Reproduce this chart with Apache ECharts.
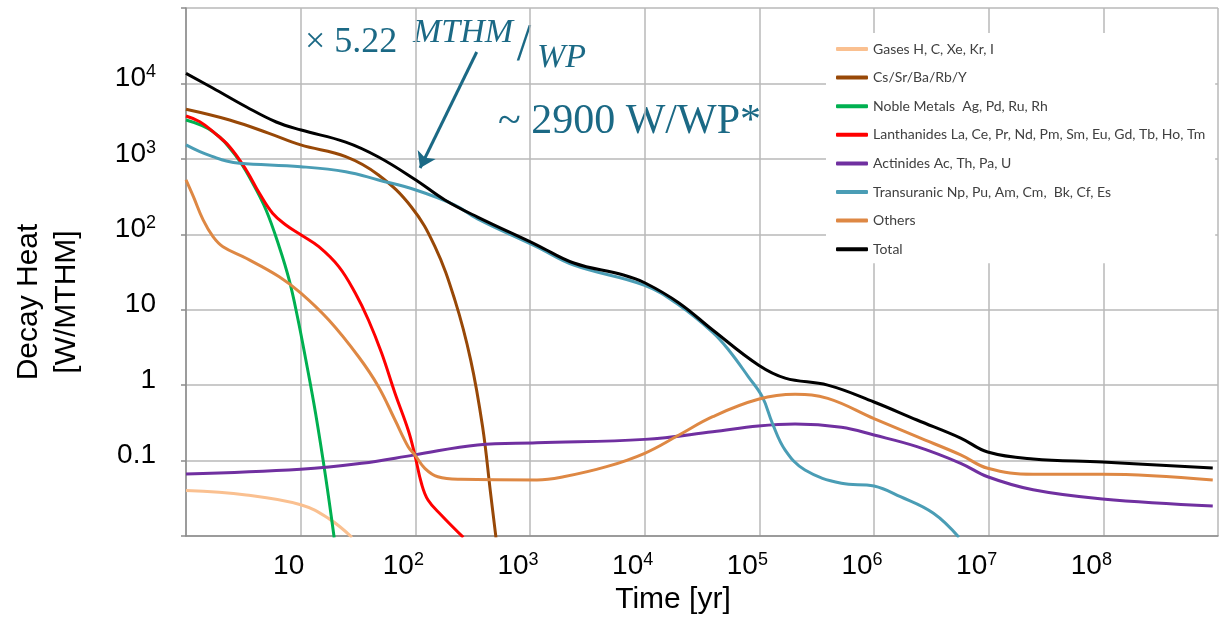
<!DOCTYPE html>
<html>
<head>
<meta charset="utf-8">
<title>Decay Heat</title>
<script src="https://cdn.jsdelivr.net/npm/echarts@6/dist/echarts.min.js"></script>
<style>
  html, body { margin: 0; padding: 0; background: #fff; }
  #chart { width: 1221px; height: 627px; }
</style>
</head>
<body>
<div id="chart"></div>
<script>
// [time in years, decay heat in W/MTHM]
const gases = [[1, 0.040], [3.35, 0.035], [10, 0.026], [17.6, 0.017], [28, 0.0096]];
const csSrBaRbY = [[1, 4540], [2.4, 3270], [5.3, 2180], [10, 1530], [24.7, 1070], [47.7, 611], [92, 232],
  [148, 69], [221, 13.5], [304, 2.15], [386, 0.28], [453, 0.037], [505, 0.0095]];
const nobleMetals = [[1, 3270], [1.72, 2290], [2.75, 1070], [3.82, 474], [4.99, 210], [6.5, 68.4],
  [7.94, 24.8], [9.37, 8.07], [11.1, 2.15], [13.5, 0.42], [16.5, 0.061], [19.6, 0.0095]];
const lanthanides = [[1, 3700], [1.32, 3110], [1.72, 2290], [2.4, 1450], [3.35, 711], [4.37, 349],
  [5.69, 190], [7.43, 133], [10.1, 98], [14.4, 68.4], [21.5, 37.2], [30, 16.5], [39, 7.31], [50.9, 2.64],
  [66.5, 0.78], [86.6, 0.254], [99, 0.119], [113, 0.05], [129, 0.030], [168, 0.019], [262, 0.0096]];
const actinides = [[1, 0.0664], [10, 0.0766], [34, 0.092], [99, 0.119], [349, 0.161], [1150, 0.172],
  [10000, 0.191], [39200, 0.241], [98000, 0.287], [205000, 0.305], [520000, 0.276], [1.0e6, 0.218],
  [2.37e6, 0.153], [5.7e6, 0.092], [9.8e6, 0.061], [2.44e7, 0.041], [9.8e7, 0.031], [9e8, 0.025]];
const transuranic = [[1, 1530], [1.32, 1245], [1.72, 1070], [2.25, 937], [2.93, 873], [10, 787], [24.7, 676],
  [47.7, 525], [101, 386], [221, 244], [349, 160], [1150, 68], [2410, 39], [10000, 21], [19900, 11.5],
  [39200, 5.0], [54000, 2.92], [80300, 1.29], [106000, 0.703], [130000, 0.312], [168000, 0.138],
  [250000, 0.075], [520000, 0.05], [1.0e6, 0.046], [1.7e6, 0.0332], [3.3e6, 0.02], [5.5e6, 0.0096]];
const others = [[1, 525], [1.16, 315], [1.41, 155], [1.72, 93], [2.1, 68.4], [3.35, 48.1], [6.5, 27.4],
  [10.1, 16.5], [17.6, 7.3], [32, 2.38], [47.7, 0.955], [66.5, 0.345], [86.6, 0.153], [99, 0.119],
  [121, 0.079], [157, 0.061], [249, 0.0564], [1150, 0.0553], [1960, 0.061], [4650, 0.083], [10000, 0.125],
  [19900, 0.218], [39200, 0.382], [98000, 0.649], [205000, 0.755], [395000, 0.668], [1.0e6, 0.36],
  [2.37e6, 0.207], [5.7e6, 0.119], [9.8e6, 0.079], [2.44e7, 0.066], [9.8e7, 0.066], [9e8, 0.0553]];
const total = [[1, 13600], [1.71, 8700], [3.37, 4870], [6.12, 3080], [10.1, 2410], [24.7, 1670], [47.7, 1060],
  [101, 525], [181, 285], [349, 169], [1150, 72], [2410, 41.6], [6530, 28.8], [10100, 22.6], [19900, 12.3],
  [39200, 5.38], [98000, 1.85], [168000, 1.24], [395000, 1.0], [1.0e6, 0.598], [2.37e6, 0.345],
  [5.7e6, 0.199], [9.8e6, 0.130], [2.44e7, 0.105], [9.8e7, 0.0957], [9e8, 0.0797]];

const seriesNames = [
  "Gases H, C, Xe, Kr, I",
  "Cs/Sr/Ba/Rb/Y",
  "Noble Metals  Ag, Pd, Ru, Rh",
  "Lanthanides La, Ce, Pr, Nd, Pm, Sm, Eu, Gd, Tb, Ho, Tm",
  "Actinides Ac, Th, Pa, U",
  "Transuranic Np, Pu, Am, Cm,  Bk, Cf, Es",
  "Others",
  "Total",
];
const seriesData = [gases, csSrBaRbY, nobleMetals, lanthanides, actinides, transuranic, others, total];
const seriesColors = ["#FAC090", "#984807", "#00B050", "#FF0000", "#7030A0", "#4A9DB5", "#DE8844", "#000000"];

// decade exponents that carry a tick label
const xLabelExps = [1, 2, 3, 4, 5, 6, 7, 8];
const yLabelExps = [-1, 0, 1, 2, 3, 4];

// annotation arrow, in data coordinates [time, heat]
const arrowFrom = [343, 26100];
const arrowTo = [110, 757];

const teal = "#1b6985";
const gridColor = "#b8b8b8";
const axisColor = "#8c8c8c";

function decadeLabel(v, exps) {
  const e = Math.round(Math.log10(v));
  if (!exps.includes(e)) return "";
  if (e === 0) return "{b|1}";
  if (e === 1) return "{b|10}";
  if (e === -1) return "{b|0.1}";
  return "{b|10}{s|" + e + "}";
}

const labelRich = {
  b: { fontFamily: "Liberation Sans", fontSize: 28, lineHeight: 30, color: "#000" },
  s: { fontFamily: "Liberation Sans", fontSize: 18, lineHeight: 18, color: "#000", verticalAlign: "top" },
};

const chart = echarts.init(document.getElementById("chart"));

const option = {
  animation: false,
  backgroundColor: "#fff",
  grid: { left: 186, right: -5, top: 8, bottom: 91 },
  xAxis: {
    type: "log",
    logBase: 10,
    min: 1,
    max: 1e9,
    axisLine: { onZero: false, lineStyle: { color: axisColor, width: 1.5 } },
    axisTick: { show: false },
    minorTick: { show: false },
    splitLine: { show: true, lineStyle: { color: gridColor, width: 1.5 } },
    axisLabel: {
      margin: 15,
      padding: [0, 24, 0, 0],
      formatter: (v) => decadeLabel(v, xLabelExps),
      rich: labelRich,
    },
  },
  yAxis: {
    type: "log",
    logBase: 10,
    min: 0.01,
    max: 1e5,
    axisLine: { show: true, lineStyle: { color: axisColor, width: 1.5 } },
    axisTick: { show: true, inside: false, length: 5, lineStyle: { color: axisColor, width: 1.5 } },
    splitLine: { show: true, lineStyle: { color: gridColor, width: 1.5 } },
    axisLabel: {
      margin: 30,
      padding: [0, 0, 10, 0],
      formatter: (v) => decadeLabel(v, yLabelExps),
      rich: labelRich,
    },
  },
  legend: {
    orient: "vertical",
    left: 826,
    top: 33,
    padding: [8, 10, 6, 10],
    backgroundColor: "#fff",
    icon: "roundRect",
    itemWidth: 32,
    itemHeight: 4,
    itemGap: 12.6,
    selectedMode: false,
    textStyle: { fontFamily: "Lato", fontSize: 14, lineHeight: 16, color: "#404040" },
    data: seriesNames,
  },
  series: seriesNames.map((name, i) => ({
    name: name,
    type: "line",
    data: seriesData[i],
    smooth: 0.4,
    symbol: "none",
    color: seriesColors[i],
    lineStyle: { color: seriesColors[i], width: 3 },
    emphasis: { disabled: true },
    clip: true,
    markLine: name === "Total" ? {
      silent: true,
      symbol: ["none", "arrow"],
      symbolSize: 15,
      label: { show: false },
      lineStyle: { color: teal, width: 3, type: "solid" },
      data: [[{ coord: arrowFrom }, { coord: arrowTo }]],
    } : undefined,
  })),
  graphic: [
    {
      type: "text", x: 48, y: 302, rotation: Math.PI / 2,
      style: {
        text: "Decay Heat\n[W/MTHM]", fontFamily: "Liberation Sans", fontSize: 30, lineHeight: 38,
        fill: "#000", align: "center", verticalAlign: "middle",
      },
    },
    {
      type: "text", x: 673, y: 600,
      style: {
        text: "Time [yr]", fontFamily: "Liberation Sans", fontSize: 30,
        fill: "#000", align: "center", verticalAlign: "middle",
      },
    },
    {
      type: "text", x: 305, y: 43,
      style: { text: "× 5.22", fontFamily: "Liberation Serif", fontSize: 36, fill: teal, align: "left", verticalAlign: "middle" },
    },
    {
      type: "text", x: 413, y: 33,
      style: { text: "MTHM", fontFamily: "Liberation Serif", fontStyle: "italic", fontSize: 34, fill: teal, align: "left", verticalAlign: "middle" },
    },
    {
      type: "text", x: 524, y: 46,
      style: { text: "/", fontFamily: "Liberation Serif", fontSize: 52, fill: teal, align: "center", verticalAlign: "middle" },
    },
    {
      type: "text", x: 537, y: 58,
      style: { text: "WP", fontFamily: "Liberation Serif", fontStyle: "italic", fontSize: 34, fill: teal, align: "left", verticalAlign: "middle" },
    },
    {
      type: "text", x: 498, y: 122,
      style: { text: "~ 2900 W/WP*", fontFamily: "Liberation Serif", fontSize: 42, fill: teal, align: "left", verticalAlign: "middle" },
    },
  ],
};

chart.setOption(option);
</script>
</body>
</html>
